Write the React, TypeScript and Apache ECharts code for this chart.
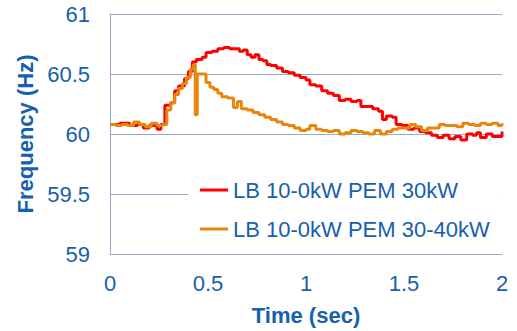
import React, { useEffect, useRef } from "react";
import * as echarts from "echarts";

const seriesNames = ["LB 10-0kW PEM 30kW", "LB 10-0kW PEM 30-40kW"];
const yTicks = [59, 59.5, 60, 60.5, 61];
const xTicks = [0, 0.5, 1, 1.5, 2];

const redTime = [0, 0.05, 0.1, 0.14, 0.17, 0.2, 0.24, 0.26, 0.28, 0.31, 0.33, 0.35, 0.38, 0.4, 0.42, 0.44, 0.47, 0.49, 0.52, 0.55, 0.58, 0.61, 0.64, 0.66, 0.68, 0.7, 0.72, 0.74, 0.76, 0.78, 0.8, 0.82, 0.85, 0.88, 0.91, 0.94, 0.97, 1.0, 1.02, 1.05, 1.08, 1.11, 1.14, 1.17, 1.2, 1.23, 1.26, 1.28, 1.31, 1.34, 1.37, 1.39, 1.41, 1.44, 1.46, 1.49, 1.52, 1.55, 1.58, 1.61, 1.64, 1.67, 1.7, 1.73, 1.76, 1.79, 1.82, 1.85, 1.87, 1.89, 1.92, 1.95, 1.98, 2.0];
const redFreq = [60.08, 60.09, 60.07, 60.08, 60.05, 60.07, 60.04, 60.08, 60.24, 60.26, 60.36, 60.4, 60.46, 60.52, 60.6, 60.62, 60.64, 60.68, 60.69, 60.71, 60.72, 60.71, 60.71, 60.69, 60.7, 60.66, 60.64, 60.66, 60.62, 60.61, 60.58, 60.57, 60.55, 60.52, 60.51, 60.49, 60.47, 60.45, 60.41, 60.4, 60.36, 60.34, 60.32, 60.28, 60.29, 60.27, 60.28, 60.23, 60.23, 60.21, 60.19, 60.12, 60.15, 60.14, 60.08, 60.07, 60.04, 60.05, 60.02, 60.01, 59.99, 59.97, 59.99, 59.96, 59.98, 59.95, 60.0, 59.99, 60.01, 59.97, 60.0, 59.98, 59.98, 60.02];

const orangeTime = [0, 0.03, 0.06, 0.09, 0.12, 0.15, 0.18, 0.21, 0.24, 0.27, 0.29, 0.31, 0.33, 0.35, 0.37, 0.39, 0.41, 0.425, 0.435, 0.445, 0.48, 0.49, 0.51, 0.53, 0.55, 0.57, 0.6, 0.62, 0.63, 0.65, 0.67, 0.7, 0.73, 0.76, 0.79, 0.82, 0.85, 0.88, 0.91, 0.94, 0.97, 1.0, 1.02, 1.05, 1.08, 1.11, 1.14, 1.17, 1.2, 1.23, 1.26, 1.29, 1.32, 1.35, 1.38, 1.41, 1.44, 1.47, 1.5, 1.53, 1.56, 1.59, 1.62, 1.65, 1.68, 1.71, 1.74, 1.77, 1.8, 1.83, 1.86, 1.89, 1.92, 1.95, 1.98, 2.0];
const orangeFreq = [60.08, 60.07, 60.08, 60.07, 60.1, 60.08, 60.06, 60.09, 60.07, 60.08, 60.2, 60.26, 60.33, 60.38, 60.42, 60.47, 60.54, 60.58, 60.16, 60.5, 60.5, 60.43, 60.39, 60.37, 60.34, 60.31, 60.3, 60.3, 60.22, 60.27, 60.21, 60.2, 60.18, 60.16, 60.14, 60.12, 60.1, 60.08, 60.07, 60.05, 60.03, 60.04, 60.07, 60.04, 60.03, 60.02, 60.03, 60.0, 60.01, 60.03, 60.02, 60.01, 60.0, 60.03, 60.0, 60.02, 60.04, 60.05, 60.05, 60.08, 60.06, 60.03, 60.05, 60.05, 60.08, 60.07, 60.07, 60.06, 60.09, 60.08, 60.07, 60.09, 60.08, 60.09, 60.07, 60.09];

const TEXT = "#1660AE";
const AXIS = "#9AA8CC";
const FONT = "'Liberation Sans', Arial, sans-serif";

export default function App() {
  const ref = useRef<HTMLDivElement>(null);
  useEffect(() => {
    document.body.style.margin = "0";
    const chart = echarts.init(ref.current!, null, { renderer: "svg" });
    const pair = (t: number[], v: number[]) => t.map((x, i) => [x, v[i]]);
    chart.setOption({
      animation: false,
      textStyle: { fontFamily: FONT },
      grid: { left: 110, right: 15, top: 14, bottom: 72, containLabel: false },
      legend: {
        orient: "vertical",
        left: 188,
        top: 171,
        padding: [8, 12, 8, 12],
        backgroundColor: "#ffffff",
        itemWidth: 28,
        itemHeight: 3,
        itemGap: 17,
        icon: "rect",
        textStyle: { color: TEXT, fontSize: 22, fontFamily: FONT, lineHeight: 22 },
        data: seriesNames,
      },
      xAxis: {
        type: "value",
        min: xTicks[0],
        max: xTicks[xTicks.length - 1],
        interval: 0.5,
        name: "Time (sec)",
        nameLocation: "middle",
        nameGap: 50,
        nameTextStyle: { color: TEXT, fontSize: 22, fontWeight: "bold", fontFamily: FONT },
        axisLine: { show: true, lineStyle: { color: AXIS, width: 1 } },
        axisTick: { show: false },
        splitLine: { show: false },
        axisLabel: { color: TEXT, fontSize: 22, margin: 18, fontFamily: FONT },
      },
      yAxis: {
        type: "value",
        min: yTicks[0],
        max: yTicks[yTicks.length - 1],
        interval: 0.5,
        name: "Frequency (Hz)",
        nameLocation: "middle",
        nameGap: 62,
        nameRotate: 90,
        nameTextStyle: { color: TEXT, fontSize: 22, fontWeight: "bold", fontFamily: FONT },
        axisLine: { show: true, lineStyle: { color: AXIS, width: 1 } },
        axisTick: { show: false },
        splitLine: { show: true, lineStyle: { color: AXIS, width: 1 } },
        axisLabel: { color: TEXT, fontSize: 22, margin: 20, fontFamily: FONT },
      },
      series: [
        {
          name: seriesNames[0],
          type: "line",
          step: "end",
          showSymbol: false,
          symbol: "none",
          data: pair(redTime, redFreq),
          lineStyle: { color: "#FF0000", width: 3 },
          itemStyle: { color: "#FF0000" },
          z: 2,
        },
        {
          name: seriesNames[1],
          type: "line",
          step: "end",
          showSymbol: false,
          symbol: "none",
          data: pair(orangeTime, orangeFreq),
          lineStyle: { color: "#E8860C", width: 3 },
          itemStyle: { color: "#E8860C" },
          z: 3,
        },
      ],
    });
    return () => chart.dispose();
  }, []);
  return <div ref={ref} style={{ width: 517, height: 331 }} />;
}
